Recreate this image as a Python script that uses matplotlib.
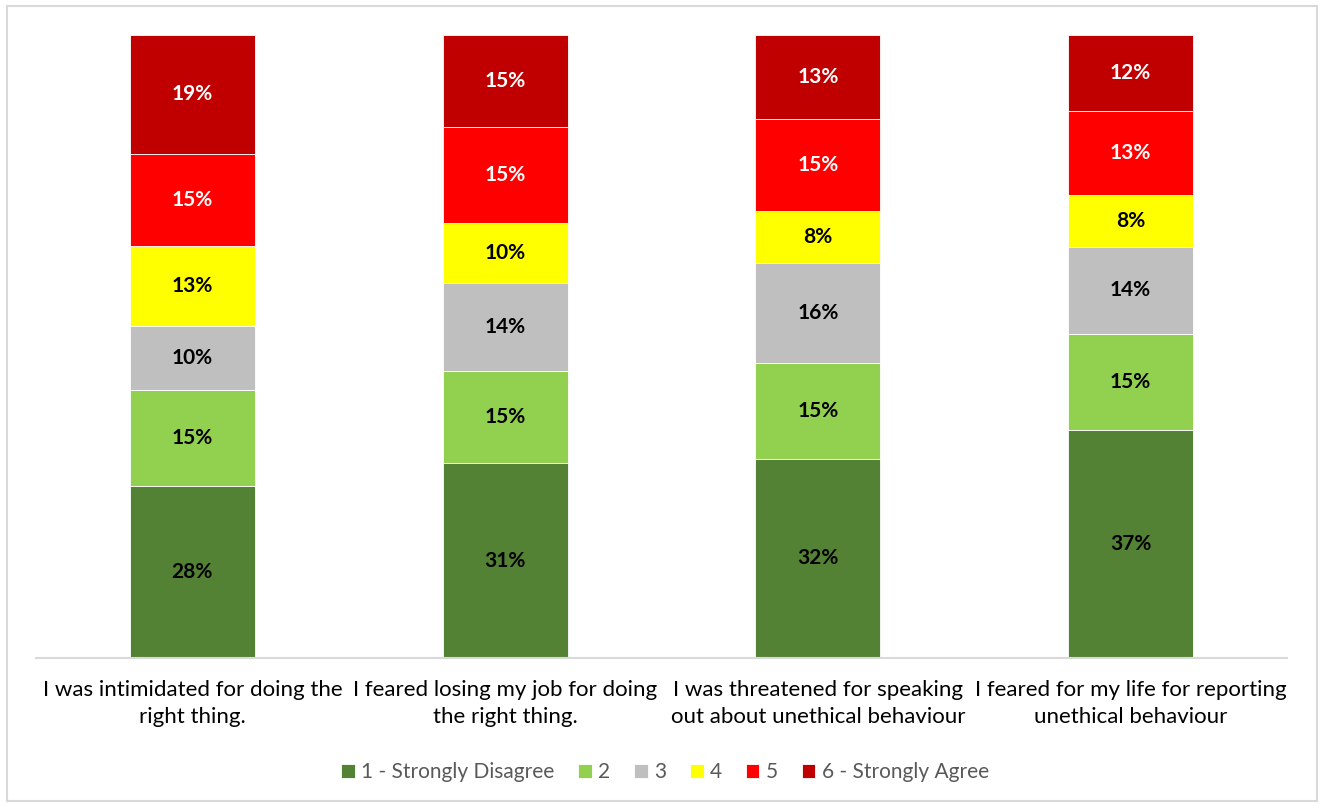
import numpy as np
import matplotlib.pyplot as plt
from matplotlib.patches import Rectangle

plt.rcParams['font.family'] = ['Lato', 'DejaVu Sans']

# Data (percent of respondents)
categories = ['I was intimidated for doing the\nright thing.',
              'I feared losing my job for doing\nthe right thing.',
              'I was threatened for speaking\nout about unethical behaviour',
              'I feared for my life for reporting\nunethical behaviour']
series_names = ['1 - Strongly Disagree', '2', '3', '4', '5', '6 - Strongly Agree']
s1 = [27.6, 31.3, 31.9, 36.6]
s2 = [15.4, 14.8, 15.4, 15.3]
s3 = [10.3, 14.1, 16.0, 14.0]
s4 = [12.8, 9.6, 8.3, 8.3]
s5 = [14.8, 15.4, 14.8, 13.4]
s6 = [19.1, 14.8, 13.4, 12.2]

colors = ['#548235', '#92D050', '#BFBFBF', '#FFFF00', '#FF0000', '#C00000']
label_colors = ['black', 'black', 'black', 'black', 'white', 'white']

data = np.array([s1, s2, s3, s4, s5, s6])
share = data / data.sum(axis=0)  # 100% stacked

fig = plt.figure(figsize=(13.25, 8.07), dpi=100)
fig.patches.append(Rectangle((0.005, 0.008), 0.989, 0.985, transform=fig.transFigure,
                             fill=False, edgecolor='#D9D9D9', linewidth=1.5))
ax = fig.add_axes([36 / 1325, 149 / 807, 1251 / 1325, 623 / 807])

x = np.arange(len(categories))
bottom = np.zeros(len(categories))
for i, name in enumerate(series_names):
    ax.bar(x, share[i], 0.4, bottom=bottom, color=colors[i], edgecolor='white',
           linewidth=0.6, label=name)
    for j in range(len(categories)):
        ax.text(x[j], bottom[j] + share[i][j] / 2, f"{data[i][j]:.0f}%",
                ha='center', va='center', fontsize=15, fontweight='bold',
                color=label_colors[i])
    bottom += share[i]

ax.set_xlim(-0.5, len(categories) - 0.5)
ax.set_ylim(0, 1)
ax.set_yticks([])
ax.set_xticks(x)
ax.set_xticklabels(categories, fontsize=16, color='#000000', linespacing=1.45)
ax.tick_params(axis='x', length=0, pad=16)
for side in ['left', 'right', 'top']:
    ax.spines[side].set_visible(False)
ax.spines['bottom'].set_color('#D9D9D9')
ax.spines['bottom'].set_linewidth(1.5)

fig.legend(loc='center', bbox_to_anchor=(665 / 1325, 1 - 772 / 807), ncol=6,
           frameon=False, fontsize=15, labelcolor='#595959', handlelength=0.65,
           handleheight=0.65, handletextpad=0.3, columnspacing=1.15)

fig.savefig('out.png', dpi=100)
